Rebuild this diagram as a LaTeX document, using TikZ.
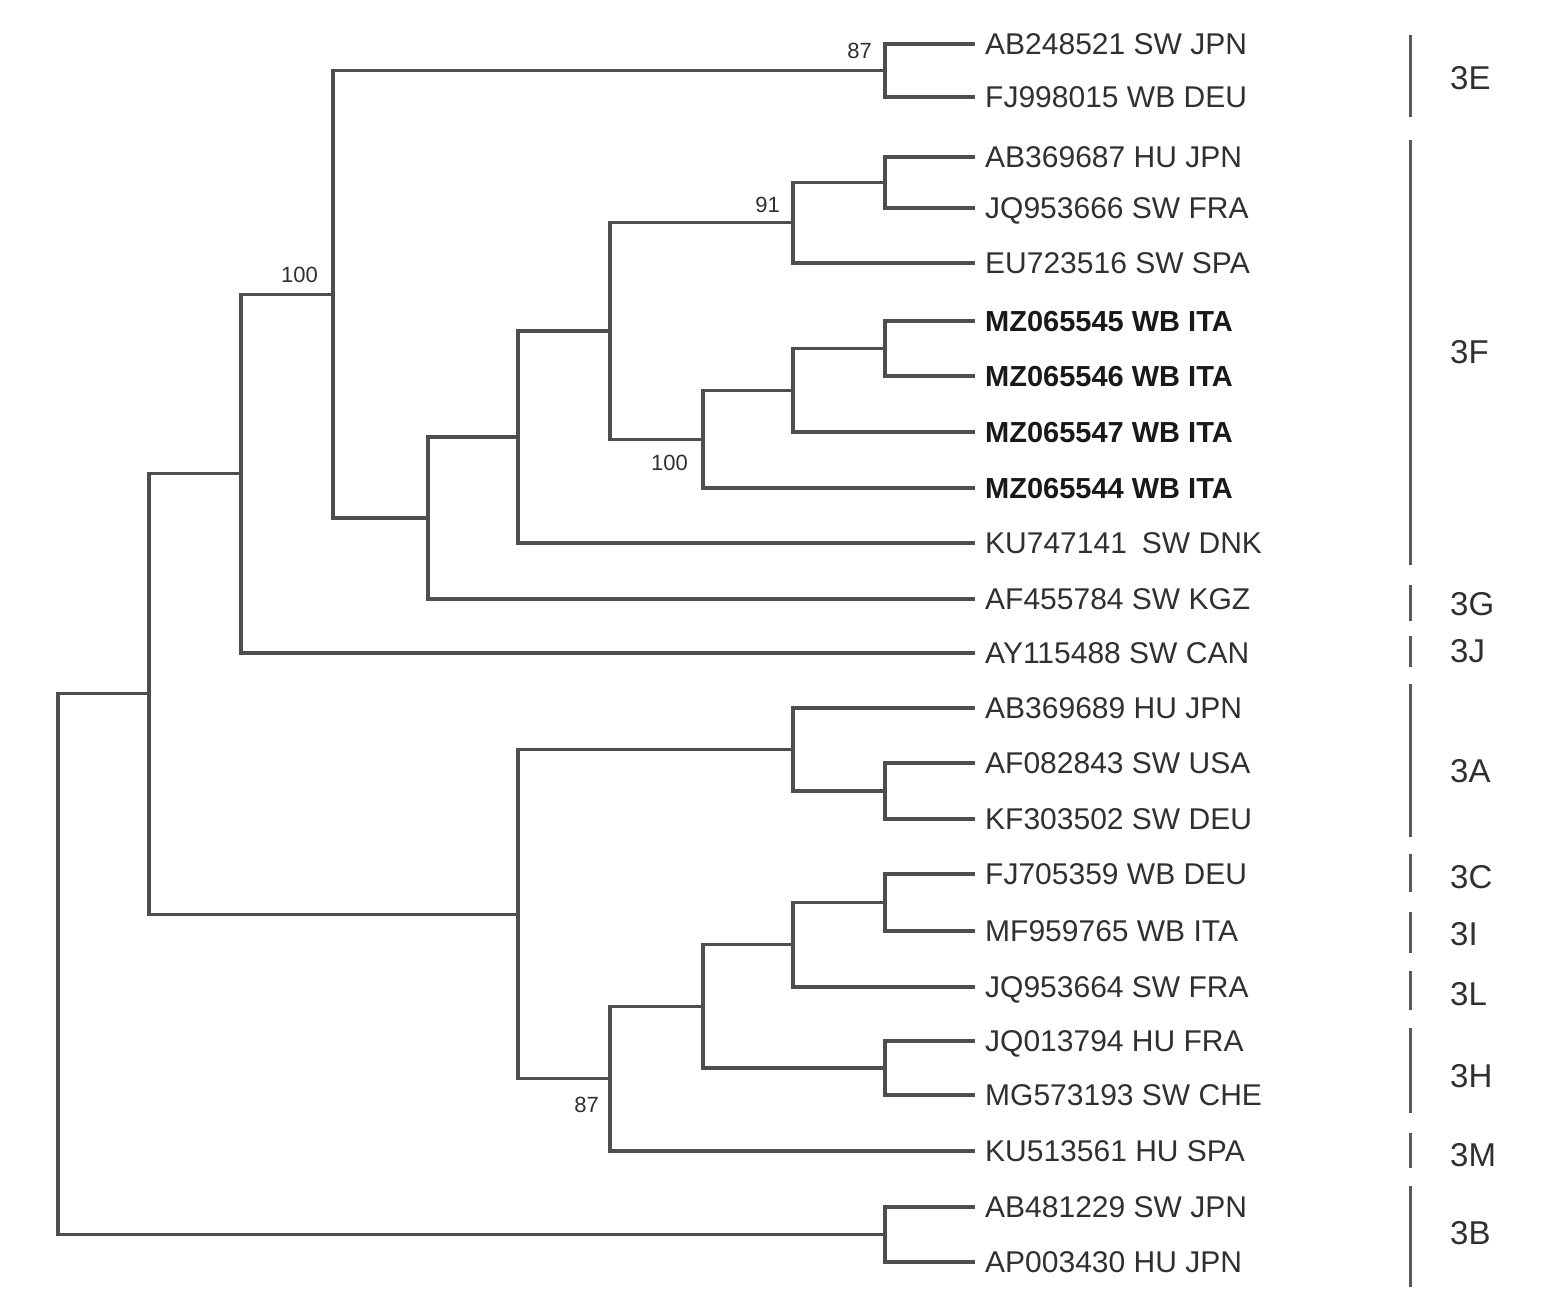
\documentclass[tikz,border=0pt]{standalone}
\usepackage{fontspec}
\setmainfont{Liberation Sans}
\usepackage{tikz}
\usetikzlibrary{positioning}
\definecolor{linegray}{HTML}{4E4E4E}
\definecolor{txtgray}{HTML}{303030}
\definecolor{bargray}{HTML}{595959}
\tikzstyle{branch}=[draw=linegray, line width=3.2pt]
\tikzstyle{leaf}=[anchor=west, inner xsep=10pt, inner ysep=0pt, text height=21.5pt, text depth=0pt, font=\fontsize{30}{30}\selectfont, text=txtgray]
\tikzstyle{mz}=[leaf, font=\fontsize{29}{29}\selectfont\bfseries, text=black!90]
\tikzstyle{boot}=[inner sep=0pt, font=\fontsize{22}{22}\selectfont, text=txtgray]
\tikzstyle{clade}=[anchor=west, inner sep=0pt, text height=23.6pt, text depth=0pt, font=\fontsize{33}{33}\selectfont, text=txtgray]
\tikzstyle{cladebar}=[draw=bargray, line width=3pt]

\begin{document}
\begin{tikzpicture}[x=1pt,y=-1pt]
    \useasboundingbox (0,0) rectangle (1545,1307);

    % leaves
    \node[leaf] (l1) at (975,44) {AB248521 SW JPN};
    \node[leaf] (l2) at (975,97) {FJ998015 WB DEU};
    \node[leaf] (l3) at (975,157) {AB369687 HU JPN};
    \node[leaf] (l4) at (975,208) {JQ953666 SW FRA};
    \node[leaf] (l5) at (975,263) {EU723516 SW SPA};
    \node[mz] (l6) at (975,321) {MZ065545 WB ITA};
    \node[mz] (l7) at (975,376) {MZ065546 WB ITA};
    \node[mz] (l8) at (975,432) {MZ065547 WB ITA};
    \node[mz] (l9) at (975,488) {MZ065544 WB ITA};
    \node[leaf] (l10) at (975,543) {KU747141\enspace SW DNK};
    \node[leaf] (l11) at (975,599) {AF455784 SW KGZ};
    \node[leaf] (l12) at (975,653) {AY115488 SW CAN};
    \node[leaf] (l13) at (975,708) {AB369689 HU JPN};
    \node[leaf] (l14) at (975,763) {AF082843 SW USA};
    \node[leaf] (l15) at (975,819) {KF303502 SW DEU};
    \node[leaf] (l16) at (975,874) {FJ705359 WB DEU};
    \node[leaf] (l17) at (975,931) {MF959765 WB ITA};
    \node[leaf] (l18) at (975,987) {JQ953664 SW FRA};
    \node[leaf] (l19) at (975,1041) {JQ013794 HU FRA};
    \node[leaf] (l20) at (975,1095) {MG573193 SW CHE};
    \node[leaf] (l21) at (975,1151) {KU513561 HU SPA};
    \node[leaf] (l22) at (975,1207) {AB481229 SW JPN};
    \node[leaf] (l23) at (975,1262) {AP003430 HU JPN};

    % internal nodes
    \coordinate (n1) at (885,70.5);
    \coordinate (n2) at (885,182.5);
    \coordinate (n3) at (793,222.75);
    \coordinate (n4) at (885,348.5);
    \coordinate (n5) at (793,390.25);
    \coordinate (n6) at (703,439.1);
    \coordinate (n7) at (610,330.9);
    \coordinate (n8) at (518,436.96);
    \coordinate (n9) at (428,517.98);
    \coordinate (n10) at (333,294.24);
    \coordinate (n11) at (241,473.62);
    \coordinate (n12) at (885,791);
    \coordinate (n13) at (793,749.5);
    \coordinate (n14) at (885,902.5);
    \coordinate (n15) at (793,944.75);
    \coordinate (n16) at (885,1068);
    \coordinate (n17) at (703,1006.38);
    \coordinate (n18) at (610,1078.69);
    \coordinate (n19) at (518,914.1);
    \coordinate (n20) at (149,693.86);
    \coordinate (n21) at (885,1234.5);
    \coordinate (n22) at (58,964.18);

    % branches
    \draw[branch] (n1) |- (l1);
    \draw[branch] (n1) |- (l2);
    \draw[branch] (n2) |- (l3);
    \draw[branch] (n2) |- (l4);
    \draw[branch] (n3) |- (n2);
    \draw[branch] (n3) |- (l5);
    \draw[branch] (n4) |- (l6);
    \draw[branch] (n4) |- (l7);
    \draw[branch] (n5) |- (n4);
    \draw[branch] (n5) |- (l8);
    \draw[branch] (n6) |- (n5);
    \draw[branch] (n6) |- (l9);
    \draw[branch] (n7) |- (n3);
    \draw[branch] (n7) |- (n6);
    \draw[branch] (n8) |- (n7);
    \draw[branch] (n8) |- (l10);
    \draw[branch] (n9) |- (n8);
    \draw[branch] (n9) |- (l11);
    \draw[branch] (n10) |- (n1);
    \draw[branch] (n10) |- (n9);
    \draw[branch] (n11) |- (n10);
    \draw[branch] (n11) |- (l12);
    \draw[branch] (n12) |- (l14);
    \draw[branch] (n12) |- (l15);
    \draw[branch] (n13) |- (l13);
    \draw[branch] (n13) |- (n12);
    \draw[branch] (n14) |- (l16);
    \draw[branch] (n14) |- (l17);
    \draw[branch] (n15) |- (n14);
    \draw[branch] (n15) |- (l18);
    \draw[branch] (n16) |- (l19);
    \draw[branch] (n16) |- (l20);
    \draw[branch] (n17) |- (n15);
    \draw[branch] (n17) |- (n16);
    \draw[branch] (n18) |- (n17);
    \draw[branch] (n18) |- (l21);
    \draw[branch] (n19) |- (n13);
    \draw[branch] (n19) |- (n18);
    \draw[branch] (n20) |- (n11);
    \draw[branch] (n20) |- (n19);
    \draw[branch] (n21) |- (l22);
    \draw[branch] (n21) |- (l23);
    \draw[branch] (n22) |- (n20);
    \draw[branch] (n22) |- (n21);

    % bootstrap values
    \node[boot] (b1) [above left=12pt and 13pt of n1] {87};
    \node[boot] (b3) [above left=10pt and 13pt of n3] {91};
    \node[boot] (b10) [above left=11pt and 15pt of n10] {100};
    \node[boot] (b6) [below left=16pt and 15pt of n6] {100};
    \node[boot] (b18) [below left=18pt and 11pt of n18] {87};

    % genotype bars
    \draw[cladebar] (1410,35) -- (1410,117);
    \draw[cladebar] (1410,140) -- (1410,565);
    \draw[cladebar] (1410,585) -- (1410,621);
    \draw[cladebar] (1410,636) -- (1410,667);
    \draw[cladebar] (1410,684) -- (1410,837);
    \draw[cladebar] (1410,854) -- (1410,892);
    \draw[cladebar] (1410,912) -- (1410,953);
    \draw[cladebar] (1410,971) -- (1410,1010);
    \draw[cladebar] (1410,1028) -- (1410,1113);
    \draw[cladebar] (1410,1133) -- (1410,1168);
    \draw[cladebar] (1410,1186) -- (1410,1287);

    % genotype labels
    \node[clade] (g3e) at (1450,78) {3E};
    \node[clade] (g3f) at (1450,352) {3F};
    \node[clade] (g3g) at (1450,604) {3G};
    \node[clade] (g3j) at (1450,651) {3J};
    \node[clade] (g3a) at (1450,771) {3A};
    \node[clade] (g3c) at (1450,877) {3C};
    \node[clade] (g3i) at (1450,934) {3I};
    \node[clade] (g3l) at (1450,994) {3L};
    \node[clade] (g3h) at (1450,1076) {3H};
    \node[clade] (g3m) at (1450,1155) {3M};
    \node[clade] (g3b) at (1450,1233) {3B};

\end{tikzpicture}
\end{document}
